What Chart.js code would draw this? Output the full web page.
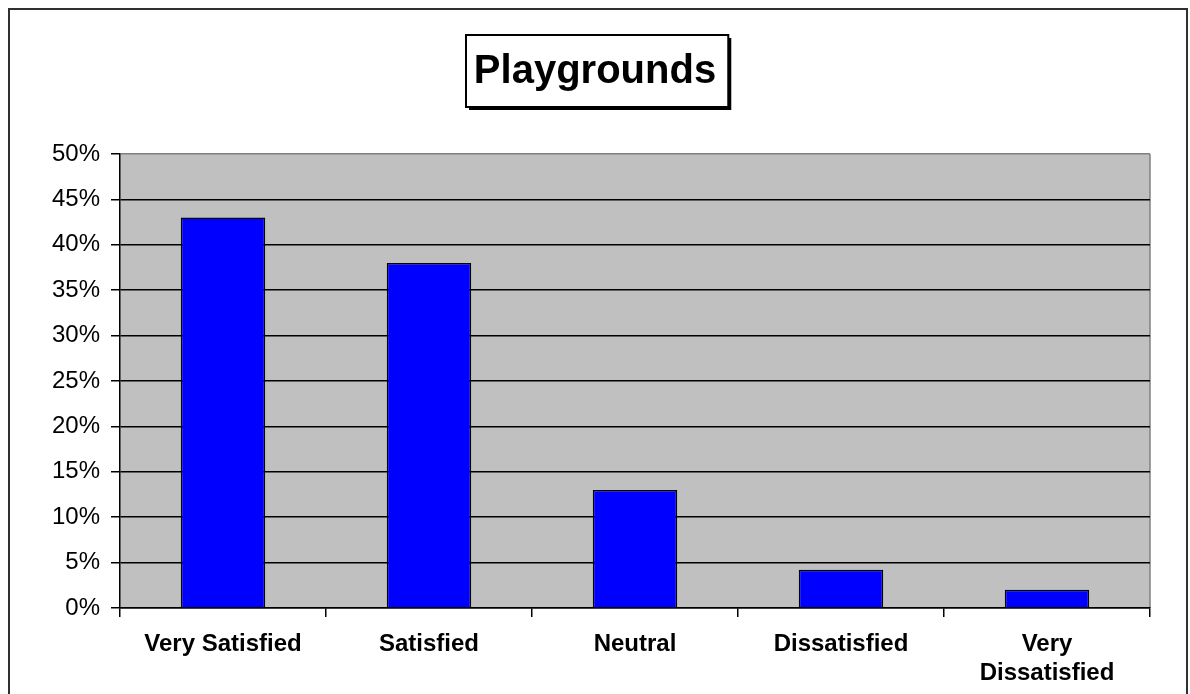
<!DOCTYPE html>
<html>
<head>
<meta charset="utf-8">
<script src="https://cdn.jsdelivr.net/npm/chart.js@4"></script>
<style>
  html, body { margin: 0; padding: 0; background: #fff; }
  #wrap { width: 1190px; height: 694px; position: relative; }
</style>
</head>
<body>
<div id="wrap"><canvas id="c" width="1190" height="694"></canvas></div>
<script>
const chartTitle = 'Playgrounds';
const categories = ['Very Satisfied', 'Satisfied', 'Neutral', 'Dissatisfied', ['Very', 'Dissatisfied']];
const percentValues = [43, 38, 13, 4.2, 2];
const yTickMax = 50;
const yTickStep = 5;

const decorPlugin = {
  id: 'decor',
  beforeDraw(chart) {
    const ctx = chart.ctx;
    const a = chart.chartArea;
    ctx.save();
    // outer frame
    ctx.strokeStyle = '#303030';
    ctx.lineWidth = 2;
    ctx.strokeRect(9, 9, 1178, 700);
    // title box
    const tb = chart.titleBlock;
    if (tb) {
      ctx.font = 'bold 40px "Liberation Sans", Arial, sans-serif';
      const tw = ctx.measureText(chartTitle).width;
      const cx = (tb.left + tb.right) / 2 + 2;
      const bw = tw + 20, bh = 72;
      const bx = Math.round(cx - bw / 2), by = 35;
      ctx.fillStyle = '#000';
      ctx.fillRect(bx + 3, by + 3, bw, bh);
      ctx.fillStyle = '#fff';
      ctx.fillRect(bx, by, bw, bh);
      ctx.strokeStyle = '#000';
      ctx.lineWidth = 2;
      ctx.strokeRect(bx, by, bw, bh);
    }
    // plot background
    ctx.fillStyle = '#c0c0c0';
    ctx.fillRect(a.left, a.top, a.right - a.left, a.bottom - a.top);
    ctx.strokeStyle = '#808080';
    ctx.lineWidth = 1.5;
    ctx.beginPath();
    ctx.moveTo(a.right, a.top);
    ctx.lineTo(a.right, a.bottom);
    ctx.stroke();
    ctx.restore();
  }
};

new Chart(document.getElementById('c'), {
  type: 'bar',
  data: {
    labels: categories,
    datasets: [{
      data: percentValues,
      backgroundColor: '#0000ff',
      borderColor: '#000000',
      borderWidth: 1.5,
      borderSkipped: 'bottom',
      categoryPercentage: 1.0,
      barPercentage: 0.41
    }]
  },
  options: {
    responsive: false,
    animation: false,
    devicePixelRatio: 1,
    layout: { padding: { left: 40, top: 0, right: 40, bottom: 0 } },
    plugins: {
      legend: { display: false },
      tooltip: { enabled: false },
      title: {
        display: true,
        text: chartTitle,
        color: '#000',
        font: { family: '"Liberation Sans", Arial, sans-serif', size: 40, weight: 'bold', lineHeight: 1.2 },
        padding: { top: 48, bottom: 58 }
      }
    },
    scales: {
      x: {
        grid: { display: true, drawOnChartArea: false, tickLength: 9, color: '#000', tickColor: '#000', offset: true, lineWidth: 1.5 },
        border: { display: true, color: '#000', width: 1.5 },
        ticks: {
          color: '#000',
          padding: 13,
          maxRotation: 0,
          autoSkip: false,
          font: { family: '"Liberation Sans", Arial, sans-serif', size: 24, weight: 'bold', lineHeight: 1.2 }
        },
        afterFit(scale) { scale.height = 86; }
      },
      y: {
        min: 0,
        max: yTickMax,
        grid: {
          color: (c) => (c.tick && c.tick.value === yTickMax ? '#808080' : '#000'),
          tickColor: '#000',
          tickLength: 9,
          lineWidth: 1.5
        },
        border: { display: true, color: '#000', width: 1.5 },
        ticks: {
          stepSize: yTickStep,
          color: '#000',
          padding: 11,
          font: { family: '"Liberation Sans", Arial, sans-serif', size: 24 },
          callback: (v) => v + '%'
        },
        afterFit(scale) { scale.width = 80; }
      }
    }
  },
  plugins: [decorPlugin]
});
</script>
</body>
</html>
